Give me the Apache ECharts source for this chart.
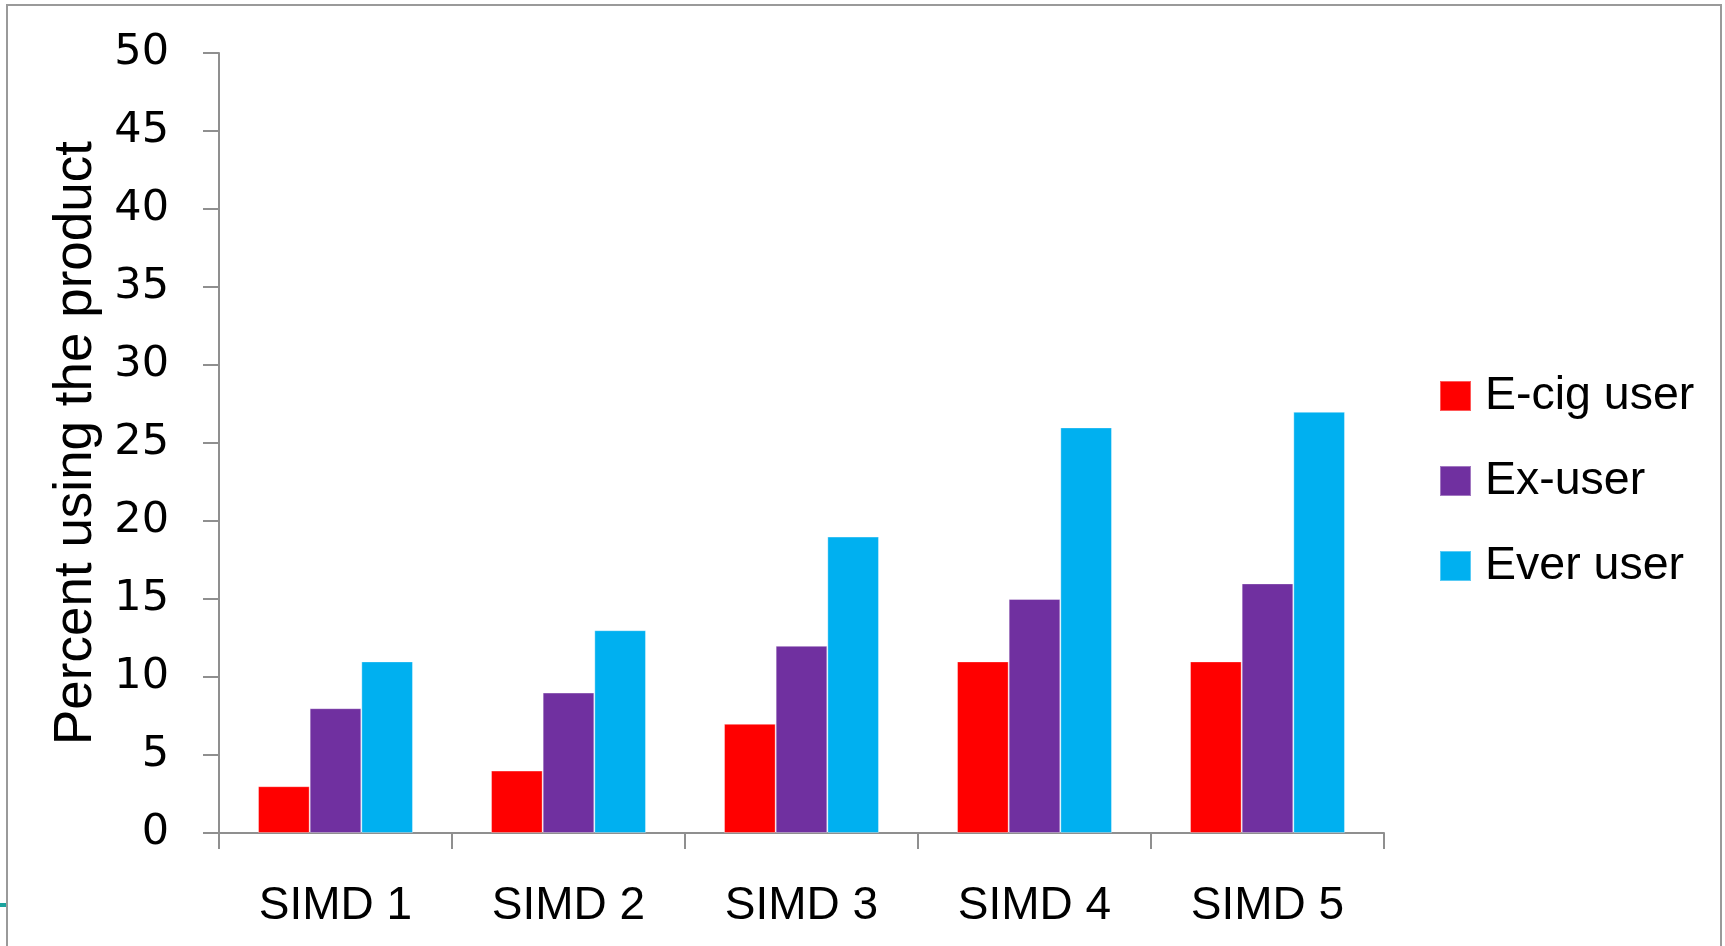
<!DOCTYPE html>
<html>
<head>
<meta charset="utf-8">
<script src="https://cdn.jsdelivr.net/npm/echarts@6/dist/echarts.min.js"></script>
<style>
  html, body { margin: 0; padding: 0; background: #ffffff; }
  #chart { width: 1725px; height: 946px; }
</style>
</head>
<body>
<div id="chart"></div>
<script>
// Product use by SIMD quintile
const categories = ['SIMD 1', 'SIMD 2', 'SIMD 3', 'SIMD 4', 'SIMD 5'];
const seriesNames = ['E-cig user', 'Ex-user', 'Ever user'];
const ecigUser = [3, 4, 7, 11, 11];
const exUser = [8, 9, 12, 15, 16];
const everUser = [11, 13, 19, 26, 27];
const yTicks = [0, 5, 10, 15, 20, 25, 30, 35, 40, 45, 50];
const colors = ['#FF0000', '#7030A0', '#00B0F0'];

const FONT = '"Liberation Sans", Arial, sans-serif';
const TICK_FONT = '"DejaVu Sans", Verdana, sans-serif';
const AXIS_GRAY = '#8f8f8f';

const chart = echarts.init(document.getElementById('chart'), null, { renderer: 'canvas' });

const seriesData = [ecigUser, exUser, everUser];

chart.setOption({
  animation: false,
  backgroundColor: '#ffffff',
  textStyle: { fontFamily: FONT },
  grid: { left: 219, right: 341, top: 53, bottom: 113, containLabel: false },
  legend: {
    orient: 'vertical',
    left: 1439,
    top: 371,
    padding: 0,
    itemWidth: 31,
    itemHeight: 30,
    itemGap: 35,
    icon: 'rect',
    selectedMode: false,
    data: seriesNames,
    textStyle: { fontFamily: FONT, fontSize: 46.5, color: '#000000', lineHeight: 50, padding: [0, 0, 0, 9] }
  },
  xAxis: {
    type: 'category',
    data: categories,
    axisLine: { lineStyle: { color: AXIS_GRAY, width: 2 } },
    axisTick: { show: true, length: 16, inside: false, alignWithLabel: false, lineStyle: { color: AXIS_GRAY, width: 2 } },
    axisLabel: { fontFamily: FONT, fontSize: 46, color: '#000000', margin: 50 },
    splitLine: { show: false }
  },
  yAxis: {
    type: 'value',
    min: yTicks[0],
    max: yTicks[yTicks.length - 1],
    interval: yTicks[1] - yTicks[0],
    name: 'Percent using the product',
    nameLocation: 'middle',
    nameGap: 114,
    nameRotate: 90,
    nameTextStyle: { fontFamily: FONT, fontSize: 53, color: '#000000' },
    axisLine: { show: true, lineStyle: { color: AXIS_GRAY, width: 2 } },
    axisTick: { show: true, length: 16, lineStyle: { color: AXIS_GRAY, width: 2 } },
    axisLabel: { fontFamily: TICK_FONT, fontSize: 43, color: '#000000', margin: 50 },
    splitLine: { show: false }
  },
  series: seriesNames.map((name, i) => ({
    name: name,
    type: 'bar',
    data: seriesData[i],
    barGap: '0%',
    barCategoryGap: '33.5%',
    itemStyle: { color: colors[i], borderColor: 'rgba(255,255,255,0.35)', borderWidth: 1 }
  })),
  graphic: [
    {
      type: 'rect',
      shape: { x: 7, y: 5, width: 1714, height: 960 },
      style: { fill: 'none', stroke: '#9a9a9a', lineWidth: 2 },
      silent: true
    },
    {
      type: 'rect',
      shape: { x: 0, y: 903, width: 6, height: 4 },
      style: { fill: '#1aa39e' },
      silent: true
    }
  ]
});
</script>
</body>
</html>
